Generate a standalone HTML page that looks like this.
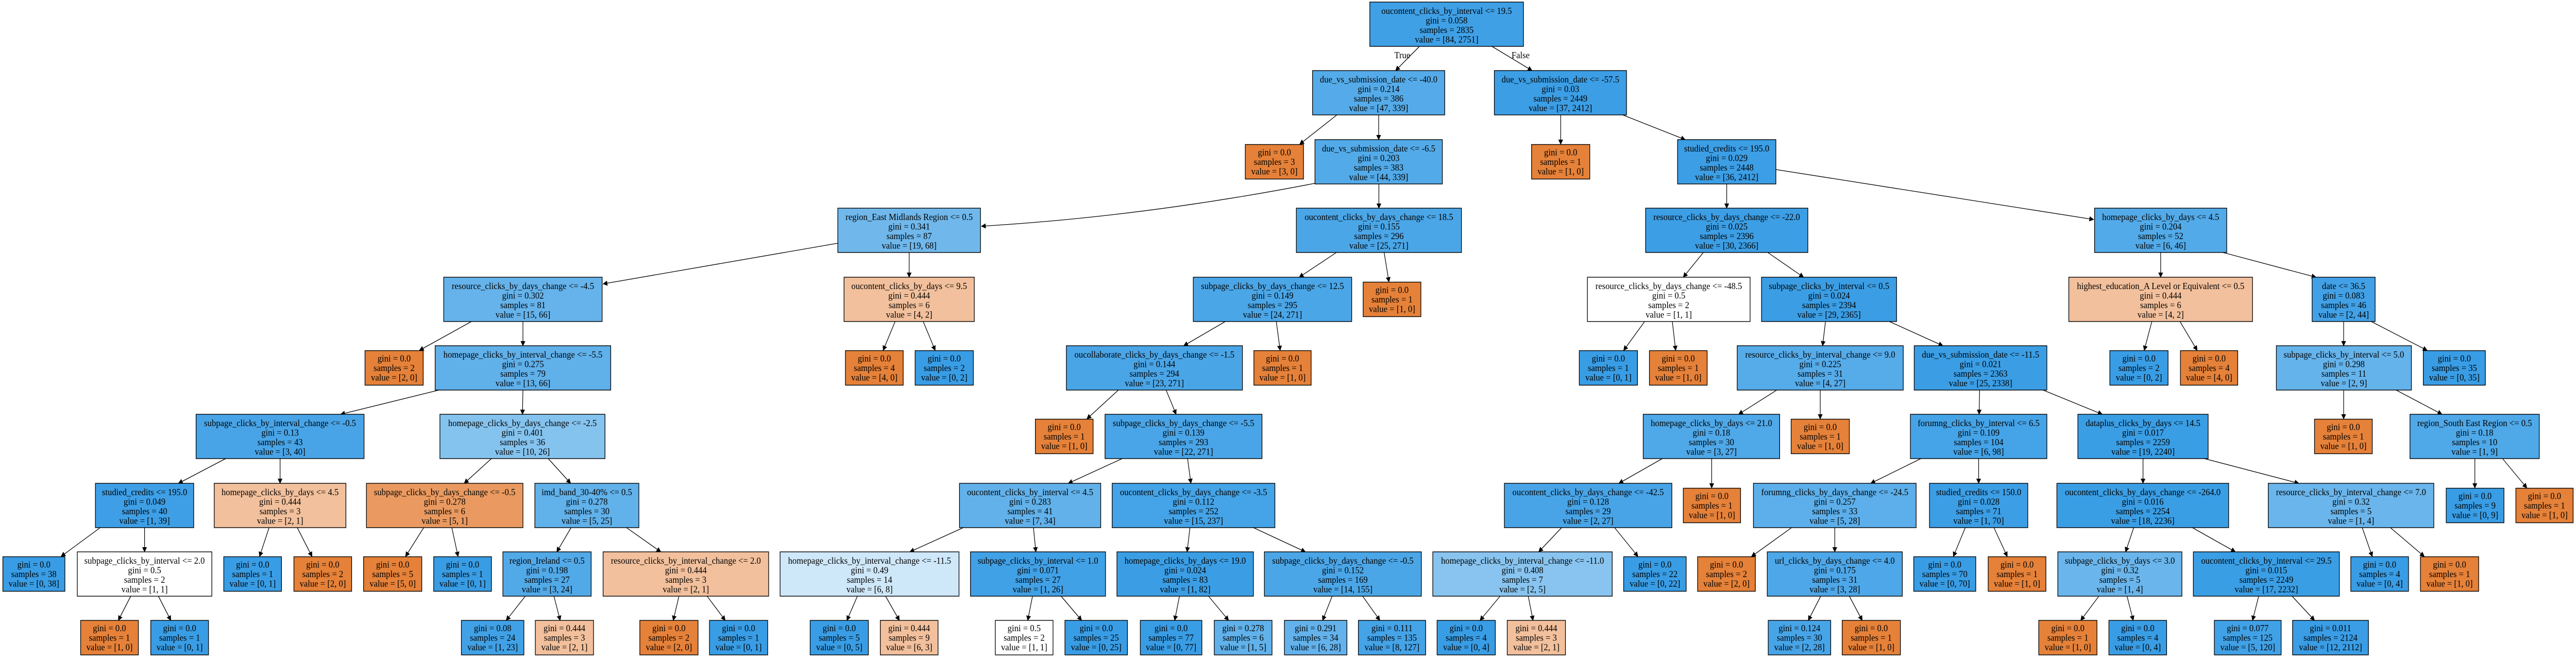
<!DOCTYPE html>
<html><head><meta charset="utf-8"><style>
html,body{margin:0;padding:0;background:#fff;overflow:hidden;width:100%;height:100%;}
svg{display:block;width:100vw;height:100vh;}
text{font-family:"Liberation Serif",serif;font-size:18px;text-anchor:middle;fill:#000;}
rect{stroke:#000;stroke-width:1.4;}
.e{stroke:#000;stroke-width:1.3;fill:none;marker-end:url(#a);}
</style></head><body>
<svg viewBox="0 0 5399 1277" preserveAspectRatio="none" xmlns="http://www.w3.org/2000/svg">
<defs><marker id="a" markerWidth="10" markerHeight="12" refX="9" refY="5" orient="auto" markerUnits="userSpaceOnUse" viewBox="0 0 10 10"><path d="M0,0 L10,5 L0,10 z" fill="#000"/></marker></defs>
<rect width="5399" height="1277" fill="#fff" style="stroke:none"/>
<g>
<line class="e" x1="2975" y1="90" x2="2925" y2="137"/>
<line class="e" x1="3127" y1="90" x2="3211" y2="137"/>
<line class="e" x1="2802" y1="223" x2="2724" y2="280"/>
<line class="e" x1="2889.5" y1="223" x2="2889.5" y2="271"/>
<line class="e" x1="3271" y1="223" x2="3271" y2="280"/>
<line class="e" x1="3401" y1="223" x2="3532" y2="271"/>
<path class="e" d="M2760,355 Q2400,420 2057,439"/>
<line class="e" x1="2890" y1="357" x2="2890" y2="404"/>
<line class="e" x1="3619" y1="357" x2="3619" y2="404"/>
<line class="e" x1="3722" y1="329" x2="4388" y2="426"/>
<line class="e" x1="1756" y1="472" x2="1264" y2="551"/>
<line class="e" x1="1905.5" y1="490" x2="1905.5" y2="538"/>
<line class="e" x1="2801" y1="490" x2="2723" y2="538"/>
<line class="e" x1="2901" y1="490" x2="2911" y2="547"/>
<line class="e" x1="3570" y1="490" x2="3528" y2="538"/>
<line class="e" x1="3705" y1="490" x2="3780" y2="538"/>
<line class="e" x1="4528.5" y1="490" x2="4528.5" y2="538"/>
<line class="e" x1="4659" y1="490" x2="4854" y2="538"/>
<line class="e" x1="988" y1="624" x2="879" y2="680"/>
<line class="e" x1="1096" y1="624" x2="1096" y2="671"/>
<line class="e" x1="1876" y1="624" x2="1851" y2="680"/>
<line class="e" x1="1935" y1="624" x2="1960" y2="680"/>
<line class="e" x1="2568" y1="624" x2="2481" y2="671"/>
<line class="e" x1="2675" y1="624" x2="2683" y2="680"/>
<line class="e" x1="3447" y1="624" x2="3403" y2="680"/>
<line class="e" x1="3505" y1="624" x2="3512" y2="680"/>
<line class="e" x1="3826" y1="624" x2="3820" y2="671"/>
<line class="e" x1="3960" y1="624" x2="4072" y2="671"/>
<line class="e" x1="4510" y1="624" x2="4494" y2="680"/>
<line class="e" x1="4569" y1="624" x2="4605" y2="680"/>
<line class="e" x1="4912" y1="624" x2="4912" y2="671"/>
<line class="e" x1="4970" y1="624" x2="5087" y2="680"/>
<line class="e" x1="920" y1="757" x2="714" y2="804"/>
<line class="e" x1="1096" y1="757" x2="1095" y2="804"/>
<line class="e" x1="2344" y1="757" x2="2278" y2="813"/>
<line class="e" x1="2444" y1="757" x2="2465" y2="804"/>
<line class="e" x1="3724" y1="757" x2="3644" y2="804"/>
<line class="e" x1="3815" y1="757" x2="3815" y2="813"/>
<line class="e" x1="4149" y1="757" x2="4148" y2="804"/>
<line class="e" x1="4282" y1="757" x2="4406" y2="804"/>
<line class="e" x1="4912" y1="757" x2="4912" y2="813"/>
<line class="e" x1="5022" y1="757" x2="5118" y2="804"/>
<line class="e" x1="473" y1="890" x2="374" y2="938"/>
<line class="e" x1="587" y1="890" x2="587" y2="938"/>
<line class="e" x1="1030" y1="890" x2="973" y2="938"/>
<line class="e" x1="1149" y1="890" x2="1196" y2="938"/>
<line class="e" x1="2352" y1="890" x2="2239" y2="938"/>
<line class="e" x1="2489" y1="890" x2="2496" y2="938"/>
<line class="e" x1="3484" y1="890" x2="3393" y2="938"/>
<line class="e" x1="3587.5" y1="890" x2="3587.5" y2="947"/>
<line class="e" x1="4026" y1="890" x2="3921" y2="938"/>
<line class="e" x1="4147" y1="890" x2="4147" y2="938"/>
<line class="e" x1="4491.5" y1="890" x2="4491.5" y2="938"/>
<line class="e" x1="4620" y1="890" x2="4818" y2="938"/>
<line class="e" x1="5187" y1="890" x2="5187" y2="947"/>
<line class="e" x1="5245" y1="890" x2="5296" y2="947"/>
<line class="e" x1="210" y1="1024" x2="128" y2="1080"/>
<line class="e" x1="303" y1="1024" x2="303" y2="1071"/>
<line class="e" x1="564" y1="1024" x2="544" y2="1080"/>
<line class="e" x1="623" y1="1024" x2="654" y2="1080"/>
<line class="e" x1="888" y1="1024" x2="850" y2="1080"/>
<line class="e" x1="947" y1="1024" x2="960" y2="1080"/>
<line class="e" x1="1197" y1="1024" x2="1167" y2="1071"/>
<line class="e" x1="1313" y1="1024" x2="1385" y2="1071"/>
<line class="e" x1="2019" y1="1024" x2="1907" y2="1071"/>
<line class="e" x1="2166" y1="1024" x2="2171" y2="1071"/>
<line class="e" x1="2494" y1="1024" x2="2488" y2="1071"/>
<line class="e" x1="2627" y1="1024" x2="2736" y2="1071"/>
<line class="e" x1="3273" y1="1024" x2="3225" y2="1071"/>
<line class="e" x1="3384" y1="1024" x2="3433" y2="1080"/>
<line class="e" x1="3755" y1="1024" x2="3671" y2="1080"/>
<line class="e" x1="3845.5" y1="1024" x2="3845.5" y2="1071"/>
<line class="e" x1="4119" y1="1024" x2="4094" y2="1080"/>
<line class="e" x1="4179" y1="1024" x2="4207" y2="1080"/>
<line class="e" x1="4472" y1="1024" x2="4455" y2="1071"/>
<line class="e" x1="4595" y1="1024" x2="4685" y2="1071"/>
<line class="e" x1="4951" y1="1024" x2="4972" y2="1080"/>
<line class="e" x1="5010" y1="1024" x2="5081" y2="1080"/>
<line class="e" x1="274" y1="1157" x2="248" y2="1204"/>
<line class="e" x1="332" y1="1157" x2="358" y2="1204"/>
<line class="e" x1="1101" y1="1157" x2="1061" y2="1204"/>
<line class="e" x1="1161" y1="1157" x2="1174" y2="1204"/>
<line class="e" x1="1423" y1="1157" x2="1411" y2="1204"/>
<line class="e" x1="1482" y1="1157" x2="1520" y2="1204"/>
<line class="e" x1="1797" y1="1157" x2="1775" y2="1204"/>
<line class="e" x1="1856" y1="1157" x2="1885" y2="1204"/>
<line class="e" x1="2164" y1="1157" x2="2154" y2="1204"/>
<line class="e" x1="2224" y1="1157" x2="2267" y2="1204"/>
<line class="e" x1="2472" y1="1157" x2="2462" y2="1204"/>
<line class="e" x1="2533" y1="1157" x2="2575" y2="1204"/>
<line class="e" x1="2792" y1="1157" x2="2772" y2="1204"/>
<line class="e" x1="2856" y1="1157" x2="2892" y2="1204"/>
<line class="e" x1="3144" y1="1157" x2="3102" y2="1204"/>
<line class="e" x1="3203" y1="1157" x2="3213" y2="1204"/>
<line class="e" x1="3816" y1="1157" x2="3790" y2="1204"/>
<line class="e" x1="3876" y1="1157" x2="3903" y2="1204"/>
<line class="e" x1="4399" y1="1157" x2="4361" y2="1204"/>
<line class="e" x1="4458" y1="1157" x2="4471" y2="1204"/>
<line class="e" x1="4734" y1="1157" x2="4721" y2="1204"/>
<line class="e" x1="4804" y1="1157" x2="4851" y2="1204"/>
</g>
<text x="2939" y="113">True</text>
<text x="3187" y="113">False</text>
<rect x="2871" y="4" width="322" height="86" fill="#3fa0e6"/><text x="3032" y="27">oucontent_clicks_by_interval &lt;= 19.5<tspan x="3032" dy="18.5">gini = 0.058</tspan><tspan x="3032" dy="18.5">samples = 2835</tspan><tspan x="3032" dy="18.5">value = [84, 2751]</tspan></text>
<rect x="2751" y="137" width="277" height="86" fill="#55abe9"/><text x="2889.5" y="160">due_vs_submission_date &lt;= -40.0<tspan x="2889.5" dy="18.5">gini = 0.214</tspan><tspan x="2889.5" dy="18.5">samples = 386</tspan><tspan x="2889.5" dy="18.5">value = [47, 339]</tspan></text>
<rect x="3132" y="137" width="277" height="86" fill="#3c9ee5"/><text x="3270.5" y="160">due_vs_submission_date &lt;= -57.5<tspan x="3270.5" dy="18.5">gini = 0.03</tspan><tspan x="3270.5" dy="18.5">samples = 2449</tspan><tspan x="3270.5" dy="18.5">value = [37, 2412]</tspan></text>
<rect x="2610" y="280.5" width="122" height="67" fill="#e58139"/><text x="2671" y="301.5">gini = 0.0<tspan x="2671" dy="18.5">samples = 3</tspan><tspan x="2671" dy="18.5">value = [3, 0]</tspan></text>
<rect x="2756" y="271" width="267" height="86" fill="#53aae8"/><text x="2889.5" y="294">due_vs_submission_date &lt;= -6.5<tspan x="2889.5" dy="18.5">gini = 0.203</tspan><tspan x="2889.5" dy="18.5">samples = 383</tspan><tspan x="2889.5" dy="18.5">value = [44, 339]</tspan></text>
<rect x="3210" y="280.5" width="122" height="67" fill="#e58139"/><text x="3271" y="301.5">gini = 0.0<tspan x="3271" dy="18.5">samples = 1</tspan><tspan x="3271" dy="18.5">value = [1, 0]</tspan></text>
<rect x="3516" y="271" width="206" height="86" fill="#3c9ee5"/><text x="3619" y="294">studied_credits &lt;= 195.0<tspan x="3619" dy="18.5">gini = 0.029</tspan><tspan x="3619" dy="18.5">samples = 2448</tspan><tspan x="3619" dy="18.5">value = [36, 2412]</tspan></text>
<rect x="1756" y="404" width="299" height="86" fill="#70b8ec"/><text x="1905.5" y="427">region_East Midlands Region &lt;= 0.5<tspan x="1905.5" dy="18.5">gini = 0.341</tspan><tspan x="1905.5" dy="18.5">samples = 87</tspan><tspan x="1905.5" dy="18.5">value = [19, 68]</tspan></text>
<rect x="2717" y="404" width="346" height="86" fill="#4ba6e7"/><text x="2890" y="427">oucontent_clicks_by_days_change &lt;= 18.5<tspan x="2890" dy="18.5">gini = 0.155</tspan><tspan x="2890" dy="18.5">samples = 296</tspan><tspan x="2890" dy="18.5">value = [25, 271]</tspan></text>
<rect x="3449" y="404" width="340" height="86" fill="#3c9ee5"/><text x="3619" y="427">resource_clicks_by_days_change &lt;= -22.0<tspan x="3619" dy="18.5">gini = 0.025</tspan><tspan x="3619" dy="18.5">samples = 2396</tspan><tspan x="3619" dy="18.5">value = [30, 2366]</tspan></text>
<rect x="4390" y="404" width="277" height="86" fill="#53aae8"/><text x="4528.5" y="427">homepage_clicks_by_days &lt;= 4.5<tspan x="4528.5" dy="18.5">gini = 0.204</tspan><tspan x="4528.5" dy="18.5">samples = 52</tspan><tspan x="4528.5" dy="18.5">value = [6, 46]</tspan></text>
<rect x="930" y="538" width="332" height="86" fill="#66b3eb"/><text x="1096" y="561">resource_clicks_by_days_change &lt;= -4.5<tspan x="1096" dy="18.5">gini = 0.302</tspan><tspan x="1096" dy="18.5">samples = 81</tspan><tspan x="1096" dy="18.5">value = [15, 66]</tspan></text>
<rect x="1769" y="538" width="273" height="86" fill="#f2c09c"/><text x="1905.5" y="561">oucontent_clicks_by_days &lt;= 9.5<tspan x="1905.5" dy="18.5">gini = 0.444</tspan><tspan x="1905.5" dy="18.5">samples = 6</tspan><tspan x="1905.5" dy="18.5">value = [4, 2]</tspan></text>
<rect x="2501" y="538" width="332" height="86" fill="#4ba6e7"/><text x="2667" y="561">subpage_clicks_by_days_change &lt;= 12.5<tspan x="2667" dy="18.5">gini = 0.149</tspan><tspan x="2667" dy="18.5">samples = 295</tspan><tspan x="2667" dy="18.5">value = [24, 271]</tspan></text>
<rect x="2857" y="547.5" width="121" height="67" fill="#e58139"/><text x="2917.5" y="568.5">gini = 0.0<tspan x="2917.5" dy="18.5">samples = 1</tspan><tspan x="2917.5" dy="18.5">value = [1, 0]</tspan></text>
<rect x="3327" y="538" width="341" height="86" fill="#ffffff"/><text x="3497.5" y="561">resource_clicks_by_days_change &lt;= -48.5<tspan x="3497.5" dy="18.5">gini = 0.5</tspan><tspan x="3497.5" dy="18.5">samples = 2</tspan><tspan x="3497.5" dy="18.5">value = [1, 1]</tspan></text>
<rect x="3692" y="538" width="283" height="86" fill="#3b9ee5"/><text x="3833.5" y="561">subpage_clicks_by_interval &lt;= 0.5<tspan x="3833.5" dy="18.5">gini = 0.024</tspan><tspan x="3833.5" dy="18.5">samples = 2394</tspan><tspan x="3833.5" dy="18.5">value = [29, 2365]</tspan></text>
<rect x="4336" y="538" width="385" height="86" fill="#f2c09c"/><text x="4528.5" y="561">highest_education_A Level or Equivalent &lt;= 0.5<tspan x="4528.5" dy="18.5">gini = 0.444</tspan><tspan x="4528.5" dy="18.5">samples = 6</tspan><tspan x="4528.5" dy="18.5">value = [4, 2]</tspan></text>
<rect x="4846" y="538" width="132" height="86" fill="#42a1e6"/><text x="4912" y="561">date &lt;= 36.5<tspan x="4912" dy="18.5">gini = 0.083</tspan><tspan x="4912" dy="18.5">samples = 46</tspan><tspan x="4912" dy="18.5">value = [2, 44]</tspan></text>
<rect x="765" y="680.5" width="122" height="67" fill="#e58139"/><text x="826" y="701.5">gini = 0.0<tspan x="826" dy="18.5">samples = 2</tspan><tspan x="826" dy="18.5">value = [2, 0]</tspan></text>
<rect x="912" y="671" width="368" height="86" fill="#60b0ea"/><text x="1096" y="694">homepage_clicks_by_interval_change &lt;= -5.5<tspan x="1096" dy="18.5">gini = 0.275</tspan><tspan x="1096" dy="18.5">samples = 79</tspan><tspan x="1096" dy="18.5">value = [13, 66]</tspan></text>
<rect x="1772" y="680.5" width="121" height="67" fill="#e58139"/><text x="1832.5" y="701.5">gini = 0.0<tspan x="1832.5" dy="18.5">samples = 4</tspan><tspan x="1832.5" dy="18.5">value = [4, 0]</tspan></text>
<rect x="1918" y="680.5" width="122" height="67" fill="#399de5"/><text x="1979" y="701.5">gini = 0.0<tspan x="1979" dy="18.5">samples = 2</tspan><tspan x="1979" dy="18.5">value = [0, 2]</tspan></text>
<rect x="2235" y="671" width="369" height="86" fill="#4aa5e7"/><text x="2419.5" y="694">oucollaborate_clicks_by_days_change &lt;= -1.5<tspan x="2419.5" dy="18.5">gini = 0.144</tspan><tspan x="2419.5" dy="18.5">samples = 294</tspan><tspan x="2419.5" dy="18.5">value = [23, 271]</tspan></text>
<rect x="2628" y="680.5" width="120" height="67" fill="#e58139"/><text x="2688" y="701.5">gini = 0.0<tspan x="2688" dy="18.5">samples = 1</tspan><tspan x="2688" dy="18.5">value = [1, 0]</tspan></text>
<rect x="3310" y="680.5" width="122" height="67" fill="#399de5"/><text x="3371" y="701.5">gini = 0.0<tspan x="3371" dy="18.5">samples = 1</tspan><tspan x="3371" dy="18.5">value = [0, 1]</tspan></text>
<rect x="3457" y="680.5" width="121" height="67" fill="#e58139"/><text x="3517.5" y="701.5">gini = 0.0<tspan x="3517.5" dy="18.5">samples = 1</tspan><tspan x="3517.5" dy="18.5">value = [1, 0]</tspan></text>
<rect x="3641" y="671" width="348" height="86" fill="#56abe9"/><text x="3815" y="694">resource_clicks_by_interval_change &lt;= 9.0<tspan x="3815" dy="18.5">gini = 0.225</tspan><tspan x="3815" dy="18.5">samples = 31</tspan><tspan x="3815" dy="18.5">value = [4, 27]</tspan></text>
<rect x="4012" y="671" width="278" height="86" fill="#3b9ee5"/><text x="4151" y="694">due_vs_submission_date &lt;= -11.5<tspan x="4151" dy="18.5">gini = 0.021</tspan><tspan x="4151" dy="18.5">samples = 2363</tspan><tspan x="4151" dy="18.5">value = [25, 2338]</tspan></text>
<rect x="4422" y="680.5" width="122" height="67" fill="#399de5"/><text x="4483" y="701.5">gini = 0.0<tspan x="4483" dy="18.5">samples = 2</tspan><tspan x="4483" dy="18.5">value = [0, 2]</tspan></text>
<rect x="4570" y="680.5" width="120" height="67" fill="#e58139"/><text x="4630" y="701.5">gini = 0.0<tspan x="4630" dy="18.5">samples = 4</tspan><tspan x="4630" dy="18.5">value = [4, 0]</tspan></text>
<rect x="4771" y="671" width="283" height="86" fill="#65b3eb"/><text x="4912.5" y="694">subpage_clicks_by_interval &lt;= 5.0<tspan x="4912.5" dy="18.5">gini = 0.298</tspan><tspan x="4912.5" dy="18.5">samples = 11</tspan><tspan x="4912.5" dy="18.5">value = [2, 9]</tspan></text>
<rect x="5079" y="680.5" width="130" height="67" fill="#399de5"/><text x="5144" y="701.5">gini = 0.0<tspan x="5144" dy="18.5">samples = 35</tspan><tspan x="5144" dy="18.5">value = [0, 35]</tspan></text>
<rect x="411" y="804" width="352" height="86" fill="#48a4e7"/><text x="587" y="827">subpage_clicks_by_interval_change &lt;= -0.5<tspan x="587" dy="18.5">gini = 0.13</tspan><tspan x="587" dy="18.5">samples = 43</tspan><tspan x="587" dy="18.5">value = [3, 40]</tspan></text>
<rect x="922" y="804" width="346" height="86" fill="#85c3ef"/><text x="1095" y="827">homepage_clicks_by_days_change &lt;= -2.5<tspan x="1095" dy="18.5">gini = 0.401</tspan><tspan x="1095" dy="18.5">samples = 36</tspan><tspan x="1095" dy="18.5">value = [10, 26]</tspan></text>
<rect x="2170" y="813.5" width="121" height="67" fill="#e58139"/><text x="2230.5" y="834.5">gini = 0.0<tspan x="2230.5" dy="18.5">samples = 1</tspan><tspan x="2230.5" dy="18.5">value = [1, 0]</tspan></text>
<rect x="2316" y="804" width="329" height="86" fill="#49a5e7"/><text x="2480.5" y="827">subpage_clicks_by_days_change &lt;= -5.5<tspan x="2480.5" dy="18.5">gini = 0.139</tspan><tspan x="2480.5" dy="18.5">samples = 293</tspan><tspan x="2480.5" dy="18.5">value = [22, 271]</tspan></text>
<rect x="3444" y="804" width="286" height="86" fill="#4fa8e8"/><text x="3587" y="827">homepage_clicks_by_days &lt;= 21.0<tspan x="3587" dy="18.5">gini = 0.18</tspan><tspan x="3587" dy="18.5">samples = 30</tspan><tspan x="3587" dy="18.5">value = [3, 27]</tspan></text>
<rect x="3754" y="813.5" width="122" height="67" fill="#e58139"/><text x="3815" y="834.5">gini = 0.0<tspan x="3815" dy="18.5">samples = 1</tspan><tspan x="3815" dy="18.5">value = [1, 0]</tspan></text>
<rect x="4004" y="804" width="286" height="86" fill="#45a3e7"/><text x="4147" y="827">forumng_clicks_by_interval &lt;= 6.5<tspan x="4147" dy="18.5">gini = 0.109</tspan><tspan x="4147" dy="18.5">samples = 104</tspan><tspan x="4147" dy="18.5">value = [6, 98]</tspan></text>
<rect x="4355" y="804" width="273" height="86" fill="#3a9ee5"/><text x="4491.5" y="827">dataplus_clicks_by_days &lt;= 14.5<tspan x="4491.5" dy="18.5">gini = 0.017</tspan><tspan x="4491.5" dy="18.5">samples = 2259</tspan><tspan x="4491.5" dy="18.5">value = [19, 2240]</tspan></text>
<rect x="4851" y="813.5" width="121" height="67" fill="#e58139"/><text x="4911.5" y="834.5">gini = 0.0<tspan x="4911.5" dy="18.5">samples = 1</tspan><tspan x="4911.5" dy="18.5">value = [1, 0]</tspan></text>
<rect x="5051" y="804" width="271" height="86" fill="#4fa8e8"/><text x="5186.5" y="827">region_South East Region &lt;= 0.5<tspan x="5186.5" dy="18.5">gini = 0.18</tspan><tspan x="5186.5" dy="18.5">samples = 10</tspan><tspan x="5186.5" dy="18.5">value = [1, 9]</tspan></text>
<rect x="200" y="938" width="206" height="86" fill="#3e9fe6"/><text x="303" y="961">studied_credits &lt;= 195.0<tspan x="303" dy="18.5">gini = 0.049</tspan><tspan x="303" dy="18.5">samples = 40</tspan><tspan x="303" dy="18.5">value = [1, 39]</tspan></text>
<rect x="449" y="938" width="276" height="86" fill="#f2c09c"/><text x="587" y="961">homepage_clicks_by_days &lt;= 4.5<tspan x="587" dy="18.5">gini = 0.444</tspan><tspan x="587" dy="18.5">samples = 3</tspan><tspan x="587" dy="18.5">value = [2, 1]</tspan></text>
<rect x="768" y="938" width="328" height="86" fill="#ea9a60"/><text x="932" y="961">subpage_clicks_by_days_change &lt;= -0.5<tspan x="932" dy="18.5">gini = 0.278</tspan><tspan x="932" dy="18.5">samples = 6</tspan><tspan x="932" dy="18.5">value = [5, 1]</tspan></text>
<rect x="1121" y="938" width="218" height="86" fill="#61b1ea"/><text x="1230" y="961">imd_band_30-40% &lt;= 0.5<tspan x="1230" dy="18.5">gini = 0.278</tspan><tspan x="1230" dy="18.5">samples = 30</tspan><tspan x="1230" dy="18.5">value = [5, 25]</tspan></text>
<rect x="2011" y="938" width="296" height="86" fill="#62b1ea"/><text x="2159" y="961">oucontent_clicks_by_interval &lt;= 4.5<tspan x="2159" dy="18.5">gini = 0.283</tspan><tspan x="2159" dy="18.5">samples = 41</tspan><tspan x="2159" dy="18.5">value = [7, 34]</tspan></text>
<rect x="2331" y="938" width="341" height="86" fill="#45a3e7"/><text x="2501.5" y="961">oucontent_clicks_by_days_change &lt;= -3.5<tspan x="2501.5" dy="18.5">gini = 0.112</tspan><tspan x="2501.5" dy="18.5">samples = 252</tspan><tspan x="2501.5" dy="18.5">value = [15, 237]</tspan></text>
<rect x="3153" y="938" width="351" height="86" fill="#48a4e7"/><text x="3328.5" y="961">oucontent_clicks_by_days_change &lt;= -42.5<tspan x="3328.5" dy="18.5">gini = 0.128</tspan><tspan x="3328.5" dy="18.5">samples = 29</tspan><tspan x="3328.5" dy="18.5">value = [2, 27]</tspan></text>
<rect x="3528" y="947.5" width="120" height="67" fill="#e58139"/><text x="3588" y="968.5">gini = 0.0<tspan x="3588" dy="18.5">samples = 1</tspan><tspan x="3588" dy="18.5">value = [1, 0]</tspan></text>
<rect x="3675" y="938" width="341" height="86" fill="#5cafea"/><text x="3845.5" y="961">forumng_clicks_by_days_change &lt;= -24.5<tspan x="3845.5" dy="18.5">gini = 0.257</tspan><tspan x="3845.5" dy="18.5">samples = 33</tspan><tspan x="3845.5" dy="18.5">value = [5, 28]</tspan></text>
<rect x="4044" y="938" width="206" height="86" fill="#3c9ee5"/><text x="4147" y="961">studied_credits &lt;= 150.0<tspan x="4147" dy="18.5">gini = 0.028</tspan><tspan x="4147" dy="18.5">samples = 71</tspan><tspan x="4147" dy="18.5">value = [1, 70]</tspan></text>
<rect x="4311" y="938" width="360" height="86" fill="#3a9ee5"/><text x="4491" y="961">oucontent_clicks_by_days_change &lt;= -264.0<tspan x="4491" dy="18.5">gini = 0.016</tspan><tspan x="4491" dy="18.5">samples = 2254</tspan><tspan x="4491" dy="18.5">value = [18, 2236]</tspan></text>
<rect x="4754" y="938" width="347" height="86" fill="#6ab5eb"/><text x="4927.5" y="961">resource_clicks_by_interval_change &lt;= 7.0<tspan x="4927.5" dy="18.5">gini = 0.32</tspan><tspan x="4927.5" dy="18.5">samples = 5</tspan><tspan x="4927.5" dy="18.5">value = [1, 4]</tspan></text>
<rect x="5127" y="947.5" width="121" height="67" fill="#399de5"/><text x="5187.5" y="968.5">gini = 0.0<tspan x="5187.5" dy="18.5">samples = 9</tspan><tspan x="5187.5" dy="18.5">value = [0, 9]</tspan></text>
<rect x="5273" y="947.5" width="120" height="67" fill="#e58139"/><text x="5333" y="968.5">gini = 0.0<tspan x="5333" dy="18.5">samples = 1</tspan><tspan x="5333" dy="18.5">value = [1, 0]</tspan></text>
<rect x="6" y="1080.5" width="130" height="67" fill="#399de5"/><text x="71" y="1101.5">gini = 0.0<tspan x="71" dy="18.5">samples = 38</tspan><tspan x="71" dy="18.5">value = [0, 38]</tspan></text>
<rect x="162" y="1071" width="282" height="86" fill="#ffffff"/><text x="303" y="1094">subpage_clicks_by_interval &lt;= 2.0<tspan x="303" dy="18.5">gini = 0.5</tspan><tspan x="303" dy="18.5">samples = 2</tspan><tspan x="303" dy="18.5">value = [1, 1]</tspan></text>
<rect x="469" y="1080.5" width="121" height="67" fill="#399de5"/><text x="529.5" y="1101.5">gini = 0.0<tspan x="529.5" dy="18.5">samples = 1</tspan><tspan x="529.5" dy="18.5">value = [0, 1]</tspan></text>
<rect x="616" y="1080.5" width="121" height="67" fill="#e58139"/><text x="676.5" y="1101.5">gini = 0.0<tspan x="676.5" dy="18.5">samples = 2</tspan><tspan x="676.5" dy="18.5">value = [2, 0]</tspan></text>
<rect x="762" y="1080.5" width="122" height="67" fill="#e58139"/><text x="823" y="1101.5">gini = 0.0<tspan x="823" dy="18.5">samples = 5</tspan><tspan x="823" dy="18.5">value = [5, 0]</tspan></text>
<rect x="909" y="1080.5" width="121" height="67" fill="#399de5"/><text x="969.5" y="1101.5">gini = 0.0<tspan x="969.5" dy="18.5">samples = 1</tspan><tspan x="969.5" dy="18.5">value = [0, 1]</tspan></text>
<rect x="1054" y="1071" width="185" height="86" fill="#52a9e8"/><text x="1146.5" y="1094">region_Ireland &lt;= 0.5<tspan x="1146.5" dy="18.5">gini = 0.198</tspan><tspan x="1146.5" dy="18.5">samples = 27</tspan><tspan x="1146.5" dy="18.5">value = [3, 24]</tspan></text>
<rect x="1264" y="1071" width="347" height="86" fill="#f2c09c"/><text x="1437.5" y="1094">resource_clicks_by_interval_change &lt;= 2.0<tspan x="1437.5" dy="18.5">gini = 0.444</tspan><tspan x="1437.5" dy="18.5">samples = 3</tspan><tspan x="1437.5" dy="18.5">value = [2, 1]</tspan></text>
<rect x="1635" y="1071" width="375" height="86" fill="#cee7f9"/><text x="1822.5" y="1094">homepage_clicks_by_interval_change &lt;= -11.5<tspan x="1822.5" dy="18.5">gini = 0.49</tspan><tspan x="1822.5" dy="18.5">samples = 14</tspan><tspan x="1822.5" dy="18.5">value = [6, 8]</tspan></text>
<rect x="2034" y="1071" width="283" height="86" fill="#41a1e6"/><text x="2175.5" y="1094">subpage_clicks_by_interval &lt;= 1.0<tspan x="2175.5" dy="18.5">gini = 0.071</tspan><tspan x="2175.5" dy="18.5">samples = 27</tspan><tspan x="2175.5" dy="18.5">value = [1, 26]</tspan></text>
<rect x="2341" y="1071" width="286" height="86" fill="#3b9ee5"/><text x="2484" y="1094">homepage_clicks_by_days &lt;= 19.0<tspan x="2484" dy="18.5">gini = 0.024</tspan><tspan x="2484" dy="18.5">samples = 83</tspan><tspan x="2484" dy="18.5">value = [1, 82]</tspan></text>
<rect x="2650" y="1071" width="329" height="86" fill="#4ba6e7"/><text x="2814.5" y="1094">subpage_clicks_by_days_change &lt;= -0.5<tspan x="2814.5" dy="18.5">gini = 0.152</tspan><tspan x="2814.5" dy="18.5">samples = 169</tspan><tspan x="2814.5" dy="18.5">value = [14, 155]</tspan></text>
<rect x="3003" y="1071" width="376" height="86" fill="#88c4ef"/><text x="3191" y="1094">homepage_clicks_by_interval_change &lt;= -11.0<tspan x="3191" dy="18.5">gini = 0.408</tspan><tspan x="3191" dy="18.5">samples = 7</tspan><tspan x="3191" dy="18.5">value = [2, 5]</tspan></text>
<rect x="3403" y="1080.5" width="131" height="67" fill="#399de5"/><text x="3468.5" y="1101.5">gini = 0.0<tspan x="3468.5" dy="18.5">samples = 22</tspan><tspan x="3468.5" dy="18.5">value = [0, 22]</tspan></text>
<rect x="3558" y="1080.5" width="121" height="67" fill="#e58139"/><text x="3618.5" y="1101.5">gini = 0.0<tspan x="3618.5" dy="18.5">samples = 2</tspan><tspan x="3618.5" dy="18.5">value = [2, 0]</tspan></text>
<rect x="3704" y="1071" width="283" height="86" fill="#4ea7e8"/><text x="3845.5" y="1094">url_clicks_by_days_change &lt;= 4.0<tspan x="3845.5" dy="18.5">gini = 0.175</tspan><tspan x="3845.5" dy="18.5">samples = 31</tspan><tspan x="3845.5" dy="18.5">value = [3, 28]</tspan></text>
<rect x="4011" y="1080.5" width="130" height="67" fill="#399de5"/><text x="4076" y="1101.5">gini = 0.0<tspan x="4076" dy="18.5">samples = 70</tspan><tspan x="4076" dy="18.5">value = [0, 70]</tspan></text>
<rect x="4167" y="1080.5" width="121" height="67" fill="#e58139"/><text x="4227.5" y="1101.5">gini = 0.0<tspan x="4227.5" dy="18.5">samples = 1</tspan><tspan x="4227.5" dy="18.5">value = [1, 0]</tspan></text>
<rect x="4313" y="1071" width="260" height="86" fill="#6ab5eb"/><text x="4443" y="1094">subpage_clicks_by_days &lt;= 3.0<tspan x="4443" dy="18.5">gini = 0.32</tspan><tspan x="4443" dy="18.5">samples = 5</tspan><tspan x="4443" dy="18.5">value = [1, 4]</tspan></text>
<rect x="4597" y="1071" width="306" height="86" fill="#3a9ee5"/><text x="4750" y="1094">oucontent_clicks_by_interval &lt;= 29.5<tspan x="4750" dy="18.5">gini = 0.015</tspan><tspan x="4750" dy="18.5">samples = 2249</tspan><tspan x="4750" dy="18.5">value = [17, 2232]</tspan></text>
<rect x="4927" y="1080.5" width="121" height="67" fill="#399de5"/><text x="4987.5" y="1101.5">gini = 0.0<tspan x="4987.5" dy="18.5">samples = 4</tspan><tspan x="4987.5" dy="18.5">value = [0, 4]</tspan></text>
<rect x="5073" y="1080.5" width="122" height="67" fill="#e58139"/><text x="5134" y="1101.5">gini = 0.0<tspan x="5134" dy="18.5">samples = 1</tspan><tspan x="5134" dy="18.5">value = [1, 0]</tspan></text>
<rect x="169" y="1204" width="121" height="67" fill="#e58139"/><text x="229.5" y="1225">gini = 0.0<tspan x="229.5" dy="18.5">samples = 1</tspan><tspan x="229.5" dy="18.5">value = [1, 0]</tspan></text>
<rect x="316" y="1204" width="121" height="67" fill="#399de5"/><text x="376.5" y="1225">gini = 0.0<tspan x="376.5" dy="18.5">samples = 1</tspan><tspan x="376.5" dy="18.5">value = [0, 1]</tspan></text>
<rect x="967" y="1204" width="131" height="67" fill="#41a1e6"/><text x="1032.5" y="1225">gini = 0.08<tspan x="1032.5" dy="18.5">samples = 24</tspan><tspan x="1032.5" dy="18.5">value = [1, 23]</tspan></text>
<rect x="1122" y="1204" width="122" height="67" fill="#f2c09c"/><text x="1183" y="1225">gini = 0.444<tspan x="1183" dy="18.5">samples = 3</tspan><tspan x="1183" dy="18.5">value = [2, 1]</tspan></text>
<rect x="1341" y="1204" width="122" height="67" fill="#e58139"/><text x="1402" y="1225">gini = 0.0<tspan x="1402" dy="18.5">samples = 2</tspan><tspan x="1402" dy="18.5">value = [2, 0]</tspan></text>
<rect x="1487" y="1204" width="122" height="67" fill="#399de5"/><text x="1548" y="1225">gini = 0.0<tspan x="1548" dy="18.5">samples = 1</tspan><tspan x="1548" dy="18.5">value = [0, 1]</tspan></text>
<rect x="1698" y="1204" width="122" height="67" fill="#399de5"/><text x="1759" y="1225">gini = 0.0<tspan x="1759" dy="18.5">samples = 5</tspan><tspan x="1759" dy="18.5">value = [0, 5]</tspan></text>
<rect x="1845" y="1204" width="121" height="67" fill="#f2c09c"/><text x="1905.5" y="1225">gini = 0.444<tspan x="1905.5" dy="18.5">samples = 9</tspan><tspan x="1905.5" dy="18.5">value = [6, 3]</tspan></text>
<rect x="2086" y="1204" width="121" height="67" fill="#ffffff"/><text x="2146.5" y="1225">gini = 0.5<tspan x="2146.5" dy="18.5">samples = 2</tspan><tspan x="2146.5" dy="18.5">value = [1, 1]</tspan></text>
<rect x="2232" y="1204" width="131" height="67" fill="#399de5"/><text x="2297.5" y="1225">gini = 0.0<tspan x="2297.5" dy="18.5">samples = 25</tspan><tspan x="2297.5" dy="18.5">value = [0, 25]</tspan></text>
<rect x="2390" y="1204" width="129" height="67" fill="#399de5"/><text x="2454.5" y="1225">gini = 0.0<tspan x="2454.5" dy="18.5">samples = 77</tspan><tspan x="2454.5" dy="18.5">value = [0, 77]</tspan></text>
<rect x="2545" y="1204" width="121" height="67" fill="#61b1ea"/><text x="2605.5" y="1225">gini = 0.278<tspan x="2605.5" dy="18.5">samples = 6</tspan><tspan x="2605.5" dy="18.5">value = [1, 5]</tspan></text>
<rect x="2692" y="1204" width="131" height="67" fill="#63b2eb"/><text x="2757.5" y="1225">gini = 0.291<tspan x="2757.5" dy="18.5">samples = 34</tspan><tspan x="2757.5" dy="18.5">value = [6, 28]</tspan></text>
<rect x="2847" y="1204" width="141" height="67" fill="#45a3e7"/><text x="2917.5" y="1225">gini = 0.111<tspan x="2917.5" dy="18.5">samples = 135</tspan><tspan x="2917.5" dy="18.5">value = [8, 127]</tspan></text>
<rect x="3012" y="1204" width="122" height="67" fill="#399de5"/><text x="3073" y="1225">gini = 0.0<tspan x="3073" dy="18.5">samples = 4</tspan><tspan x="3073" dy="18.5">value = [0, 4]</tspan></text>
<rect x="3159" y="1204" width="122" height="67" fill="#f2c09c"/><text x="3220" y="1225">gini = 0.444<tspan x="3220" dy="18.5">samples = 3</tspan><tspan x="3220" dy="18.5">value = [2, 1]</tspan></text>
<rect x="3706" y="1204" width="131" height="67" fill="#47a4e7"/><text x="3771.5" y="1225">gini = 0.124<tspan x="3771.5" dy="18.5">samples = 30</tspan><tspan x="3771.5" dy="18.5">value = [2, 28]</tspan></text>
<rect x="3861" y="1204" width="122" height="67" fill="#e58139"/><text x="3922" y="1225">gini = 0.0<tspan x="3922" dy="18.5">samples = 1</tspan><tspan x="3922" dy="18.5">value = [1, 0]</tspan></text>
<rect x="4273" y="1204" width="122" height="67" fill="#e58139"/><text x="4334" y="1225">gini = 0.0<tspan x="4334" dy="18.5">samples = 1</tspan><tspan x="4334" dy="18.5">value = [1, 0]</tspan></text>
<rect x="4420" y="1204" width="121" height="67" fill="#399de5"/><text x="4480.5" y="1225">gini = 0.0<tspan x="4480.5" dy="18.5">samples = 4</tspan><tspan x="4480.5" dy="18.5">value = [0, 4]</tspan></text>
<rect x="4641" y="1204" width="140" height="67" fill="#41a1e6"/><text x="4711" y="1225">gini = 0.077<tspan x="4711" dy="18.5">samples = 125</tspan><tspan x="4711" dy="18.5">value = [5, 120]</tspan></text>
<rect x="4805" y="1204" width="159" height="67" fill="#3a9de5"/><text x="4884.5" y="1225">gini = 0.011<tspan x="4884.5" dy="18.5">samples = 2124</tspan><tspan x="4884.5" dy="18.5">value = [12, 2112]</tspan></text>
</svg>
</body></html>
